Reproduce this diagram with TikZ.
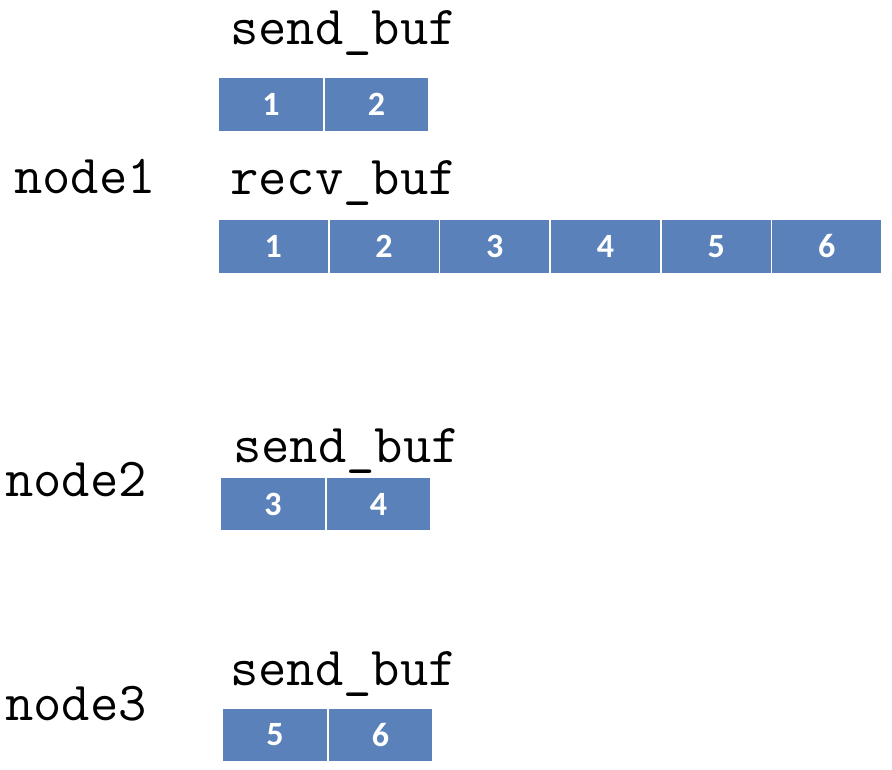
\documentclass[tikz,border=0pt]{standalone}
\usepackage{fontspec}
\newfontfamily\numfont{Carlito}
\definecolor{cellblue}{RGB}{91,129,186}
\begin{document}
\begin{tikzpicture}[x=1pt,y=-1pt,
  cell/.style={fill=cellblue,draw=white,line width=1.6pt,inner sep=0pt,outer sep=0pt,
    minimum height=54pt,text=white,font=\numfont\bfseries\fontsize{34}{40}\selectfont},
  sc/.style={cell,minimum width=105.5pt},
  rc/.style={cell,minimum width=110.7pt},
  lbl/.style={anchor=base west,inner sep=0pt,font=\ttfamily\fontsize{55}{62}\selectfont}]
\useasboundingbox (0,0) rectangle (892,770);
% node1
\node[lbl] (n1) at (14,194) {node1};
\node[lbl] (sb1) at (230,45) {send\_buf};
\node[sc] (s1a) at (271,104.5) {1};
\node[sc] (s1b) at (376.5,104.5) {2};
\node[lbl] (rb1) at (230,195) {recv\_buf};
\foreach \i in {1,...,6}{
  \node[rc] (r\i) at ({218+110.7*(\i-0.5)},246.5) {\i};
}
% node2
\node[lbl] (n2) at (5,496) {node2};
\node[lbl] (sb2) at (233,462) {send\_buf};
\node[sc] (s2a) at (273,504) {3};
\node[sc] (s2b) at (378.5,504) {4};
% node3
\node[lbl] (n3) at (5,720) {node3};
\node[lbl] (sb3) at (230,685) {send\_buf};
\node[sc] (s3a) at (275,735) {5};
\node[sc] (s3b) at (380.5,735) {6};
\end{tikzpicture}
\end{document}
